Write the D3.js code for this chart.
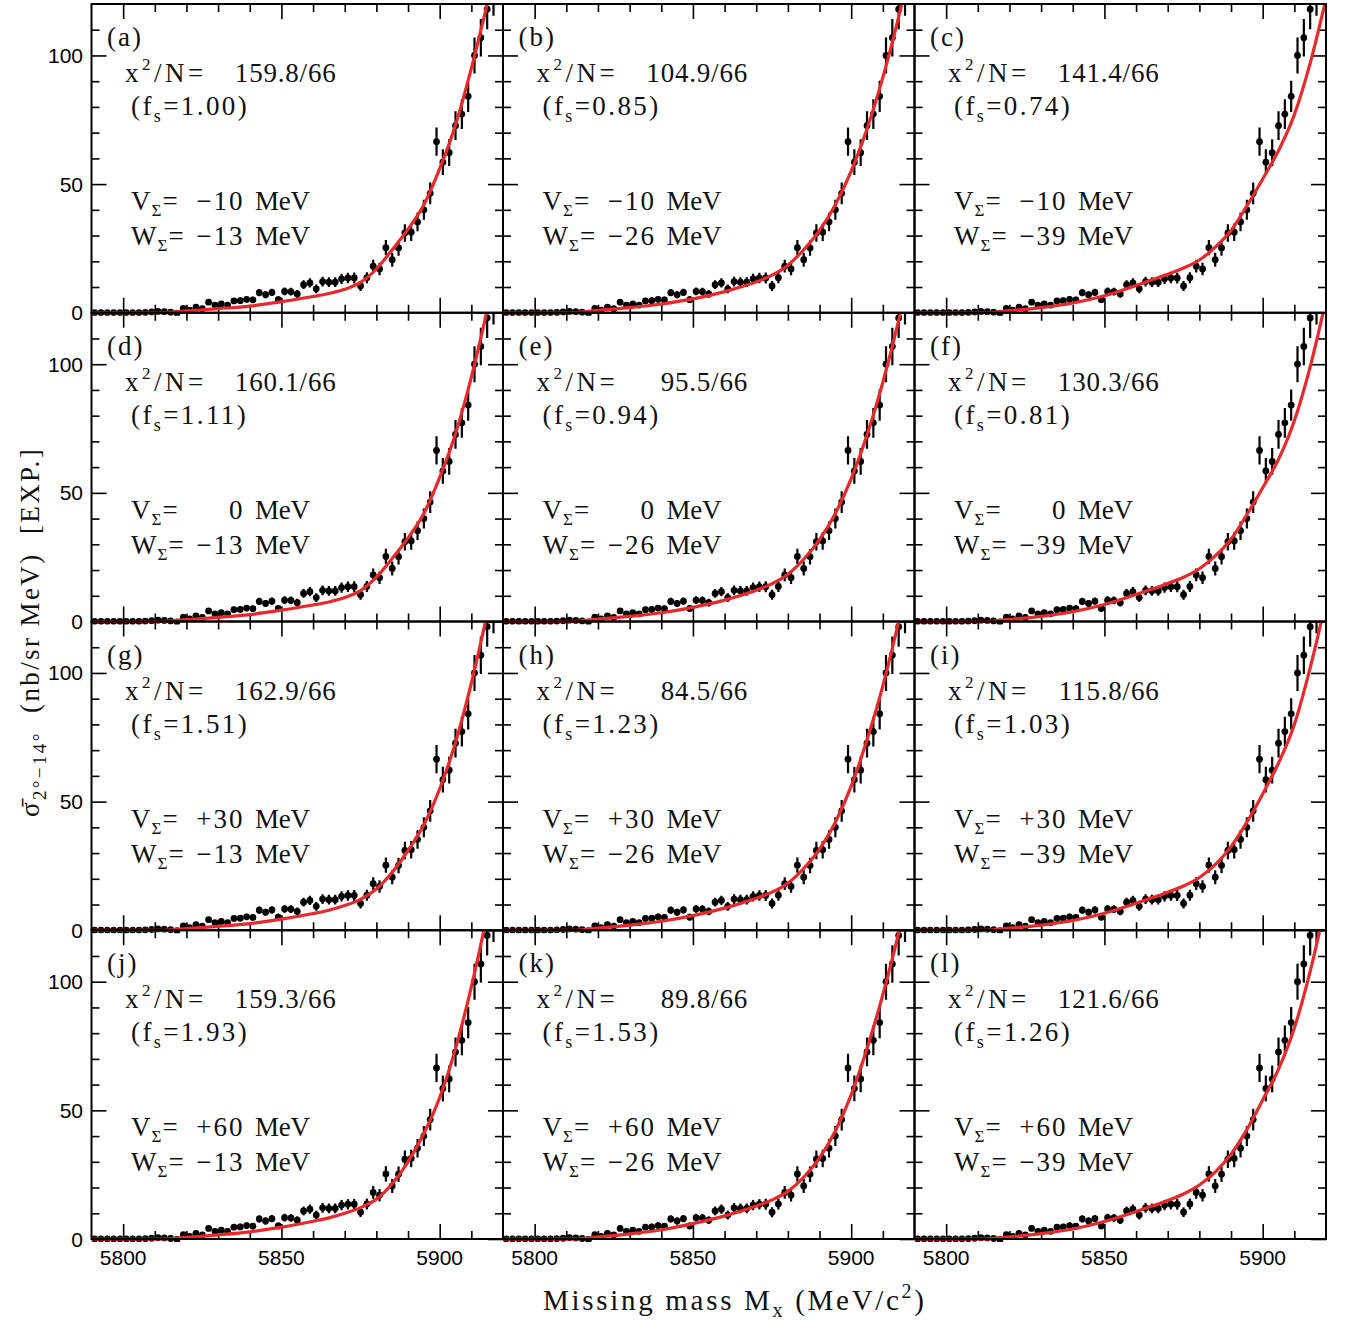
<!DOCTYPE html>
<html>
<head>
<meta charset="utf-8">
<script src="https://cdn.jsdelivr.net/npm/d3@7"></script>
<style>
  body { margin: 0; background: #fff; }
  text { white-space: pre; }
</style>
</head>
<body>
<svg id="chart" width="1346" height="1321"></svg>
<script>
// Missing-mass bins (MeV/c^2), bin centres
const massBins = [5791,5793,5795,5797,5799,5801,5803,5805,5807,5809,5811,5813,5815,5817,
  5819,5821,5823,5825,5827,5829,5831,5833,5835,5837,5839,5841,5843,5845,5847,5849,
  5851,5853,5855,5857,5859,5861,5863,5865,5867,5869,5871,5873,5875,5877,5879,5881,
  5883,5885,5887,5889,5891,5893,5895,5897,5899,5901,5903,5905,5907,5909,5911,5913,5915,5917];

// Measured cross section (nb/sr MeV) and statistical errors
const xsecValues = [0,0,0,0,0,0,0,0,0.1,0.3,0.5,0.4,0.2,-0.2,
  1.7,1.0,2.2,1.6,4.1,3.0,3.4,3.0,4.6,4.7,5.2,5.0,7.8,7.0,7.9,5.1,
  8.3,8.2,7.3,10.9,11.6,9.3,12.1,11.9,11.9,13.2,13.5,13.5,10.4,13.6,18.1,17.0,
  25.3,20.6,25.2,31.0,31.3,35.3,40.0,46.4,66.5,58.5,62.2,72.7,77.2,84.1,100.0,106.9,118.0,124.0];
const xsecErrors = [0.2,0.2,0.2,0.2,0.2,0.2,0.2,0.2,0.2,0.2,0.2,0.2,0.2,0.2,
  0.8,0.8,0.9,0.9,1.0,1.0,1.0,1.0,1.1,1.2,1.2,1.2,1.4,1.4,1.4,1.3,
  1.5,1.5,1.5,1.7,1.8,1.7,1.9,1.9,1.9,2.0,2.0,2.1,1.9,2.1,2.5,2.4,
  3.0,2.7,3.0,3.4,3.4,3.6,3.9,4.2,5.5,5.0,5.2,5.6,5.8,6.1,7.0,7.3,7.8,8.6];

// Calculated spectra, sampled at these masses
const curveMass = [5790,5812,5820,5830,5840,5850,5860,5865,5870,5875,5880,5885,5890,5895,5900,5905,5910,5915,5920];
const fitA = [0,0,0.7,1.6,2.6,4.3,6.3,7.5,9.1,11.8,17.0,24.5,32.5,42.0,56,73,95,120,148];
const fitB = [0,0,0.9,2.0,3.4,5.4,8.2,10.0,12.0,14.6,18.5,24.5,32.0,42.0,55,71.5,91.5,115,142];
const fitC = [0,0,0.8,2.0,3.8,6.6,10.6,12.8,15.0,17.4,20.5,25.5,32.0,41.5,52,63,77,97,122];
const fitD = [0,0,0.7,1.6,2.7,4.4,6.4,7.6,9.3,12.0,17.2,24.5,32.5,42.0,56,73,95,121,150];
const fitE = [0,0,0.9,2.0,3.4,5.5,8.3,10.1,12.1,14.7,18.4,24.2,31.8,42.0,55.5,72.5,93,117,145];
const fitF = [0,0,0.8,2.0,3.8,6.6,10.5,12.6,14.8,17.2,20.5,25.5,32.0,41.5,52,63,78,99,125];
const fitG = [0,0,0.6,1.5,2.6,4.3,6.5,7.8,9.6,12.0,16.0,22.5,31.0,41.0,55,73,96,123,152];
const fitH = [0,0,0.8,2.0,3.5,5.7,8.6,10.4,12.4,14.8,18.3,24.0,31.5,42.0,56,74,95,120,148];
const fitI = [0,0,0.8,2.0,3.8,6.6,10.5,12.6,14.8,17.2,20.5,25.5,32.5,42.0,53,65,80,102,128];
const fitJ = [0,0,0.6,1.6,2.8,4.6,6.9,8.2,10.0,12.2,15.5,21.5,30.0,41.0,55,74,98,126,156];
const fitK = [0,0,0.8,2.0,3.6,6.0,9.0,10.8,12.8,15.2,18.5,24.0,31.5,42.0,56,74,95,119,147];
const fitL = [0,0,0.8,2.1,3.9,6.8,10.7,12.8,15.0,17.5,21.0,26.0,33.0,42.5,54,66,82,104,131];

// Panel annotations
const panelLabels = ['(a)','(b)','(c)','(d)','(e)','(f)','(g)','(h)','(i)','(j)','(k)','(l)'];
const chi2Values = ['159.8','104.9','141.4','160.1','95.5','130.3','162.9','84.5','115.8','159.3','89.8','121.6'];
const chi2N = '66';
const fsValues = ['1.00','0.85','0.74','1.11','0.94','0.81','1.51','1.23','1.03','1.93','1.53','1.26'];
const vSigma = ['\u221210','0','+30','+60'];     // per row
const wSigma = ['\u221213','\u221226','\u221239']; // per column

// Axis ticks
const xTickLabels = [5800, 5850, 5900];
const xMinorTicks = [5810, 5820, 5830, 5840, 5860, 5870, 5880, 5890, 5910];
const yTickLabels = [0, 50, 100];
const yMinorTicks = [10, 20, 30, 40, 60, 70, 80, 90, 110];

const fits = [fitA, fitB, fitC, fitD, fitE, fitF, fitG, fitH, fitI, fitJ, fitK, fitL];

// ---- layout ----
const svg = d3.select('#chart');
const originX = 91.5, originY = 4;
const pw = 411.5, ph = 308.75;
const serif = "'Liberation Serif', 'Times New Roman', serif";
const sans = "'Liberation Sans', Arial, sans-serif";
const red = '#e8292c';

const x = d3.scaleLinear().domain([5790, 5920]).range([0, pw]);
const y = d3.scaleLinear().domain([0, 120]).range([ph, 0]);

const points = massBins.map((m, i) => ({ m, v: xsecValues[i], e: xsecErrors[i] }));
const line = d3.line().x(d => x(d[0])).y(d => y(d[1])).curve(d3.curveMonotoneX);

function styleAxis(sel) {
  sel.select('.domain').remove();
  sel.selectAll('.tick line').attr('stroke', '#000').attr('stroke-width', 1.6);
}

fits.forEach((fit, i) => {
  const row = Math.floor(i / 3), col = i % 3;
  const g = svg.append('g').attr('transform', `translate(${originX + col * pw},${originY + row * ph})`);

  g.append('clipPath').attr('id', 'clip' + i)
    .append('rect').attr('x', 0).attr('y', 0).attr('width', pw).attr('height', ph + 3);

  // inward ticks on all four sides
  const tickSets = [
    [d3.axisBottom(x).tickValues(xTickLabels).tickSize(-15), `translate(0,${ph})`],
    [d3.axisBottom(x).tickValues(xMinorTicks).tickSize(-8), `translate(0,${ph})`],
    [d3.axisTop(x).tickValues(xTickLabels).tickSize(-15), 'translate(0,0)'],
    [d3.axisTop(x).tickValues(xMinorTicks).tickSize(-8), 'translate(0,0)'],
    [d3.axisLeft(y).tickValues(yTickLabels).tickSize(-15), 'translate(0,0)'],
    [d3.axisLeft(y).tickValues(yMinorTicks).tickSize(-8), 'translate(0,0)'],
    [d3.axisRight(y).tickValues(yTickLabels).tickSize(-15), `translate(${pw},0)`],
    [d3.axisRight(y).tickValues(yMinorTicks).tickSize(-8), `translate(${pw},0)`]
  ];
  tickSets.forEach(([ax, tr]) => {
    g.append('g').attr('transform', tr).call(ax.tickFormat('')).call(styleAxis);
  });

  // tick labels on outer panels
  if (col === 0) {
    yTickLabels.forEach(t => {
      g.append('text').attr('x', -8.5).attr('y', y(t) + 7.5)
        .attr('text-anchor', 'end').attr('font-family', sans).attr('font-size', 21)
        .text(t);
    });
  }
  if (row === 3) {
    xTickLabels.forEach(t => {
      g.append('text').attr('x', x(t)).attr('y', ph + 26)
        .attr('text-anchor', 'middle').attr('font-family', sans).attr('font-size', 21)
        .text(t);
    });
  }

  const plot = g.append('g').attr('clip-path', `url(#clip${i})`);

  // data with error bars
  plot.selectAll('line.err').data(points).join('line')
    .attr('class', 'err')
    .attr('x1', d => x(d.m)).attr('x2', d => x(d.m))
    .attr('y1', d => y(d.v - d.e)).attr('y2', d => y(d.v + d.e))
    .attr('stroke', '#000').attr('stroke-width', 2.2);
  plot.selectAll('circle').data(points).join('circle')
    .attr('cx', d => x(d.m)).attr('cy', d => y(d.v)).attr('r', 3.4)
    .attr('fill', '#000');

  // calculated spectrum
  plot.append('path')
    .datum(curveMass.map((m, k) => [m, fit[k]]))
    .attr('d', line)
    .attr('fill', 'none').attr('stroke', red).attr('stroke-width', 3.2);

  // frame
  g.append('rect').attr('x', 0).attr('y', 0).attr('width', pw).attr('height', ph)
    .attr('fill', 'none').attr('stroke', '#000').attr('stroke-width', 2);

  // annotations
  const txt = (xx, yy, ls) => g.append('text').attr('x', xx).attr('y', yy)
    .attr('font-family', serif).attr('font-size', 27).attr('letter-spacing', ls).attr('fill', '#111');

  txt(15.5, 42, 2).text(panelLabels[i]);

  const c = txt(33.5, 78, 3.5);
  c.append('tspan').text('x');
  c.append('tspan').attr('font-size', 17).attr('dy', -12).text('2');
  c.append('tspan').attr('dy', 12).text('/N=');
  txt(245, 78, 0.8).attr('text-anchor', 'end').text(chi2Values[i] + '/' + chi2N);

  const f = txt(39.5, 111, 2.4);
  f.append('tspan').text('(f');
  f.append('tspan').attr('font-size', 18).attr('dy', 7).text('s');
  f.append('tspan').attr('dy', -7).text('=' + fsValues[i] + ')');

  [[ 'V', vSigma[row], 206 ], [ 'W', wSigma[col], 241 ]].forEach(([sym, val, by]) => {
    const t = txt(39.5, by, 1);
    t.append('tspan').text(sym);
    t.append('tspan').attr('font-size', 17).attr('dy', 6).text('\u03A3');
    t.append('tspan').attr('dy', -6).text('=');
    txt(153, by, 2).attr('text-anchor', 'end').text(val);
    txt(163.5, by, -0.3).text('MeV');
  });
});

// axis titles
const xt = svg.append('text').attr('x', 543).attr('y', 1310)
  .attr('font-family', serif).attr('font-size', 29).attr('letter-spacing', 2.7).attr('fill', '#111');
xt.append('tspan').text('Missing mass M');
xt.append('tspan').attr('font-size', 20).attr('dy', 7).text('x');
xt.append('tspan').attr('dy', -7).text(' (MeV/c');
xt.append('tspan').attr('font-size', 20).attr('dy', -12).text('2');
xt.append('tspan').attr('dy', 12).text(')');

const yt = svg.append('text').attr('transform', 'translate(39,632) rotate(-90)')
  .attr('text-anchor', 'middle')
  .attr('font-family', serif).attr('font-size', 27).attr('letter-spacing', 2.4).attr('fill', '#111');
yt.append('tspan').text('\u03C3\u0304');
yt.append('tspan').attr('font-size', 19).attr('dy', 7).text('2\u00B0\u221214\u00B0');
yt.append('tspan').attr('dy', -7).text('  (nb/sr MeV)  [EXP.]');
</script>
</body>
</html>
